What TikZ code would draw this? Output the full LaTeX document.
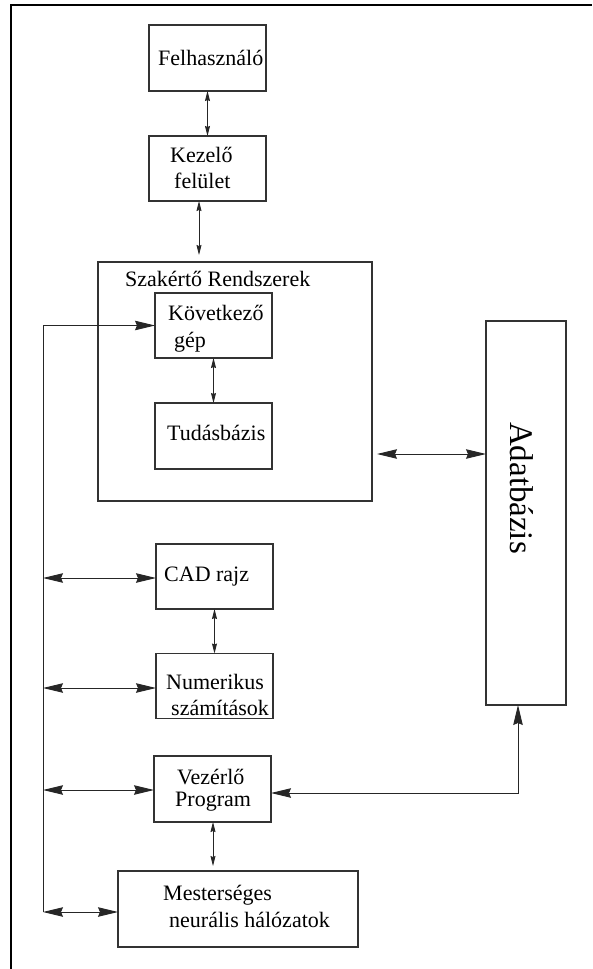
\documentclass[tikz,border=0pt]{standalone}
\usepackage{fontspec}
\setmainfont{Liberation Serif}
\usetikzlibrary{arrows.meta}
\begin{document}
\begin{tikzpicture}[x=1pt,y=-1pt,
  box/.style={draw=black!80, line width=1.1pt, inner sep=0pt, outer sep=0pt},
  txt/.style={inner sep=0pt, font=\fontsize{22}{26}\selectfont, anchor=west},
  conn/.style={line width=0.9pt, black!85},
  small/.style={conn, {Stealth[length=10pt,width=5pt,inset=1pt]}-{Stealth[length=10pt,width=5pt,inset=1pt]}},
  big/.style={conn, {Stealth[length=20pt,width=9.5pt,inset=2pt]}-{Stealth[length=20pt,width=9.5pt,inset=2pt]}},
  bigto/.style={conn, -{Stealth[length=20pt,width=9.5pt,inset=2pt]}}]
\useasboundingbox (0,0) rectangle (592,969);

% frame (top and left edges)
\draw[line width=2.4pt] (11,969) -- (11,5) -- (592,5);

% boxes: centre, width, height
\node[box, minimum width=117pt, minimum height=66pt] (felh) at (207.5,58) {};
\node[box, minimum width=117pt, minimum height=65pt] (kez) at (207.5,168.5) {};
\node[box, minimum width=274pt, minimum height=239pt] (szak) at (235,381.5) {};
\node[box, minimum width=117pt, minimum height=65pt] (kov) at (213.5,325.5) {};
\node[box, minimum width=117pt, minimum height=66pt] (tud) at (213.5,436) {};
\node[box, minimum width=80pt, minimum height=384pt] (adat) at (526,513) {};
\node[box, minimum width=117pt, minimum height=65pt] (cad) at (214.5,576.5) {};
\node[box, minimum width=117pt, minimum height=65pt] (num) at (214.5,686) {};
\node[box, minimum width=117pt, minimum height=66pt] (vez) at (212.5,789) {};
\node[box, minimum width=240pt, minimum height=76pt] (mest) at (238,909) {};

% texts
\node[txt] (felh-t) at (158,58) {Felhasználó};
\node[txt] (kez-t1) at (170,155) {Kezelő};
\node[txt] (kez-t2) at (174,181) {felület};
\node[txt] (szak-t) at (125,279) {Szakértő Rendszerek};
\node[txt] (kov-t1) at (168,313) {Következő};
\node[txt] (kov-t2) at (174,342) {gép};
\node[txt] (tud-t) at (167,433) {Tudásbázis};
\node[txt] (cad-t) at (164,577) {CAD rajz};
\node[txt] (num-t1) at (166,682) {Numerikus};
\node[txt] (num-t2) at (171,708) {számítások};
\node[txt] (vez-t1) at (177,777) {Vezérlő};
\node[txt] (vez-t2) at (175,802) {Program};
\node[txt] (mest-t1) at (163,895) {Mesterséges};
\node[txt] (mest-t2) at (169,920) {neurális hálózatok};
\node[inner sep=0pt, rotate=-90, font=\fontsize{33}{38}\selectfont] (adat-t) at (522,488) {Adatbázis};

% vertical links
\draw[small] (felh.south) -- (kez.north);
\coordinate (kz) at (199,255);
\draw[small] (kez.south -| kz) -- (kz);
\draw[small] (kov.south) -- (tud.north);
\draw[small] (cad.south) -- (cad.south |- num.north);
\coordinate (vm) at (213,866);
\draw[small] (vez.south -| vm) -- (vm);

% left bus line
\coordinate (bus-top) at (43,325.5);
\coordinate (bus-bot) at (43,912);
\draw[bigto] (bus-bot) -- (bus-top) -- (kov.west);
\draw[big] (bus-top |- 0,578) -- (cad.west |- 0,578);
\draw[big] (bus-top |- 0,688) -- (num.west |- 0,688);
\draw[big] (bus-top |- 0,790) -- (vez.west |- 0,790);
\draw[big] (bus-bot) -- (mest.west |- bus-bot);

% database links
\coordinate (sa) at (377,454);
\draw[big] (sa) -- (sa -| adat.west);
\coordinate (av) at (518,793);
\draw[big] (adat.south -| av) -- (av) -- (av -| vez.east);
\end{tikzpicture}
\end{document}
